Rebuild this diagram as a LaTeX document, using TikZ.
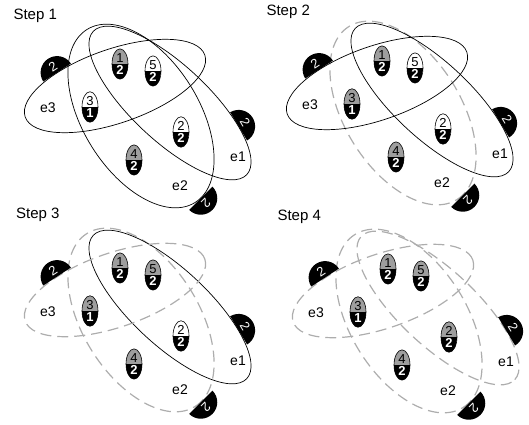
\documentclass[tikz,border=0pt]{standalone}
\usepackage{fontspec}
\setmainfont{Liberation Sans}
\usetikzlibrary{shapes.geometric}
\definecolor{vgray}{gray}{0.62}
\definecolor{dgray}{gray}{0.68}
\newcommand{\vn}[2]{#1\\{\color{white}\bfseries #2}}

\begin{document}
\begin{tikzpicture}[x=1pt,y=1pt,
 edg/.style={draw=black,line width=0.7pt},
 off/.style={draw=dgray,line width=1.2pt,dash pattern=on 11pt off 6pt},
 vtx/.style={ellipse,draw,line width=0.6pt,minimum width=16pt,minimum height=30pt,
  inner sep=0pt,align=center,font=\fontsize{13}{12.5}\selectfont,
  path picture={\fill[black] (path picture bounding box.west)
   rectangle (path picture bounding box.south east);}},
 tagn/.style={semicircle,fill=black,text=white,anchor=chord center,
  inner sep=3pt,font=\fontsize{13}{13}\selectfont},
 elab/.style={font=\fontsize{14}{14}\selectfont},
 ttl/.style={anchor=base west,font=\fontsize{15}{15}\selectfont}]
\useasboundingbox (0,0) rectangle (529,424);
%шаги
\foreach \n/\dx/\dy/\tx/\ty/\sa/\sb/\sc/\fc/\fe/\fb in
 {1/0/0/10/404.5/edg/edg/edg/white/white/white,
  2/262/3/263/408.5/edg/off/edg/vgray/white/white,
  3/0/-204/12.7/206/edg/off/off/vgray/vgray/white,
  4/268/-205/274/204/off/off/off/vgray/vgray/vgray}
{
\node[ttl] (s\n) at (\tx,\ty) {Step \n};
\begin{scope}[shift={(\dx,\dy)}]
%рёбра
\begin{scope}[shift={(141,308)},rotate=-58]
 \draw[\sb] (0,0) ellipse (102 and 58);
 \node[tagn,rotate=-135] (t2-\n) at (7:102 and 58) {2};
\end{scope}
\begin{scope}[shift={(170,321)},rotate=-43]
 \draw[\sa] (0,0) ellipse (105 and 38);
 \node[tagn,rotate=-59] (t1-\n) at (51:105 and 38) {2};
\end{scope}
\begin{scope}[shift={(115,338)},rotate=19]
 \draw[\sc] (0,0) ellipse (95 and 37);
 \node[tagn,rotate=33] (t3-\n) at (122:95 and 37) {2};
\end{scope}
\node[elab] (e1-\n) at (238,267) {e1};
\node[elab] (e2-\n) at (180,238) {e2};
\node[elab] (e3-\n) at (48,316) {e3};
%вершины
\node[vtx,fill=vgray] (v1-\n) at (120,360) {\vn{1}{2}};
\node[vtx,fill=\fe] (v5-\n) at (153,353) {\vn{5}{2}};
\node[vtx,fill=\fc] (v3-\n) at (90,317) {\vn{3}{1}};
\node[vtx,fill=\fb] (v2-\n) at (181,292) {\vn{2}{2}};
\node[vtx,fill=vgray] (v4-\n) at (134,264) {\vn{4}{2}};
\end{scope}
}
\end{tikzpicture}
\end{document}
